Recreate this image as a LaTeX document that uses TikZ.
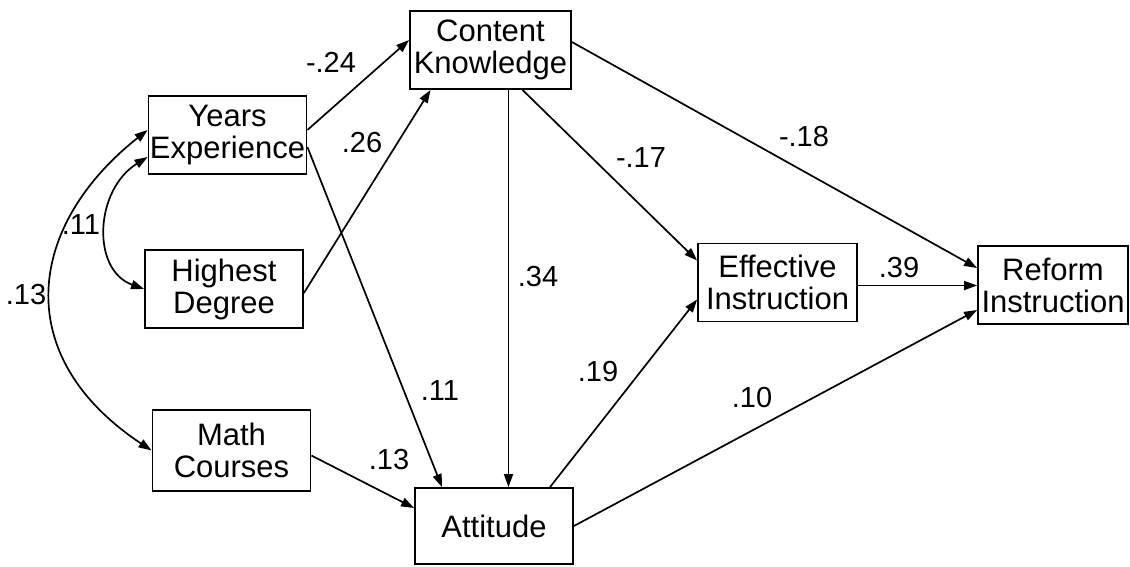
\documentclass[tikz,border=0pt]{standalone}
\usepackage{fontspec}
\setmainfont{Liberation Sans}
\usetikzlibrary{arrows.meta}

\begin{document}
\begin{tikzpicture}[
    x=1pt,y=-1pt,
    var/.style={draw,line width=1.8pt,minimum width=158pt,minimum height=78pt,inner sep=0pt,align=center,font=\fontsize{31}{32}\selectfont},
    coef/.style={inner sep=0pt,font=\fontsize{29}{30}\selectfont},
    link/.style={-{Triangle[length=13pt,width=9pt]},line width=1.7pt},
    dlink/.style={{Triangle[length=13pt,width=9pt]}-{Triangle[length=13pt,width=9pt]},line width=1.7pt}
  ]
    \useasboundingbox (0,0) rectangle (1130,566);
    \node[var] (ye) at (227.5,135) {Years\\Experience};
    \node[var] (hd) at (224,289) {Highest\\Degree};
    \node[var,minimum height=81pt] (mc) at (231.5,450.5) {Math\\Courses};
    \node[var,minimum width=161pt] (ck) at (490.5,50) {Content\\Knowledge};
    \node[var,minimum height=76pt] (att) at (494,526) {Attitude};
    \node[var,minimum width=159pt] (ei) at (777.5,282.5) {Effective\\Instruction};
    \node[var,minimum width=150pt] (ri) at (1053,285) {Reform\\Instruction};
    \draw[link] ([yshift=5pt]ye.east) -- ([yshift=10pt]ck.west);
    \draw[link] ([yshift=-4pt]hd.east) -- ([xshift=-60pt]ck.south);
    \draw[link] ([yshift=-12pt]ye.east) -- ([xshift=-52pt]att.north);
    \draw[link] ([xshift=18pt]ck.south) -- ([xshift=18pt]ck.south |- att.north);
    \draw[link] ([xshift=32pt]ck.south) -- ([yshift=22pt]ei.west);
    \draw[link] ([yshift=8pt]ck.east) -- ([yshift=17pt]ri.west);
    \draw[link] ([yshift=-3pt]ei.east) -- ([yshift=-3pt]ei.east -| ri.west);
    \draw[link] ([xshift=56pt]att.north) -- ([yshift=-17pt]ei.west);
    \draw[link] (att.east) -- ([yshift=-25pt]ri.west);
    \draw[link] ([yshift=-5pt]mc.east) -- ([yshift=18pt]att.west);
    \draw[dlink] ([yshift=-22pt]ye.west) .. controls +(-53,33) and +(-53,-19) .. (hd.west);
    \draw[dlink] ([yshift=5pt]ye.west) .. controls +(-120,95) and +(-143,-95) .. (mc.west);
    \node[coef] (c1) at (331,62) {-.24};
    \node[coef] (c2) at (362,143) {.26};
    \node[coef] (c3) at (440,391) {.11};
    \node[coef] (c4) at (389,460) {.13};
    \node[coef] (c5) at (538,277) {.34};
    \node[coef] (c6) at (641,158) {-.17};
    \node[coef] (c7) at (804,137) {-.18};
    \node[coef] (c8) at (899,268) {.39};
    \node[coef] (c9) at (598,372) {.19};
    \node[coef] (c10) at (752,398) {.10};
    \node[coef] (c11) at (81,225) {.11};
    \node[coef] (c12) at (26,295) {.13};
  \end{tikzpicture}
\end{document}
